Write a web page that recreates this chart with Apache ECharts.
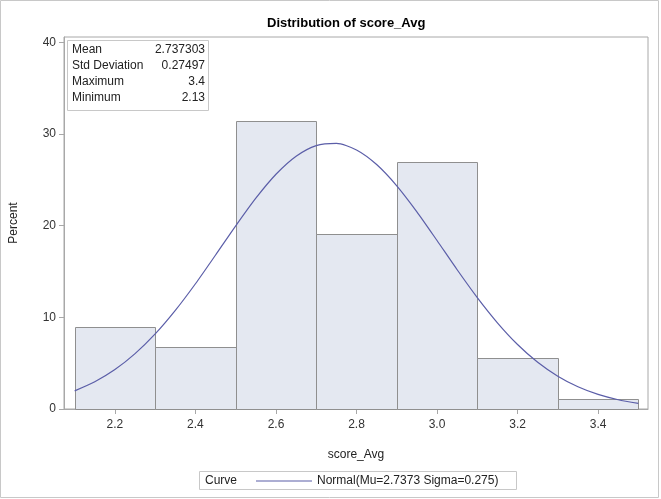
<!DOCTYPE html>
<html>
<head>
<meta charset="utf-8">
<script src="https://cdn.jsdelivr.net/npm/echarts@6/dist/echarts.min.js"></script>
<style>html,body{margin:0;padding:0;background:#fff}#c{width:661px;height:499px}</style>
</head>
<body>
<div id="c"></div>
<script>
// ---- data ----
const binStarts = [2.1, 2.3, 2.5, 2.7, 2.9, 3.1, 3.3];
const binEnds   = [2.3, 2.5, 2.7, 2.9, 3.1, 3.3, 3.5];
const percents  = [8.99, 6.74, 31.46, 19.10, 26.97, 5.62, 1.12];
const curveX = [2.10,2.15,2.20,2.25,2.30,2.35,2.40,2.45,2.50,2.55,2.60,2.65,2.70,2.75,2.80,2.85,2.90,2.95,3.00,3.05,3.10,3.15,3.20,3.25,3.30,3.35,3.40,3.45,3.50];
const curveY = [1.98,2.97,4.30,6.04,8.19,10.76,13.67,16.81,19.99,23.01,25.62,27.59,28.75,28.99,28.27,26.68,24.36,21.52,18.39,15.20,12.16,9.41,7.04,5.10,3.58,2.42,1.59,1.01,0.62];
const xTicks = [2.2, 2.4, 2.6, 2.8, 3.0, 3.2, 3.4];
const yTicks = [0, 10, 20, 30, 40];
const statNames  = ['Mean', 'Std Deviation', 'Maximum', 'Minimum'];
const statValues = ['2.737303', '0.27497', '3.4', '2.13'];
const titleText = 'Distribution of score_Avg';
const curveName = 'Normal(Mu=2.7373 Sigma=0.275)';

const FONT = '"Liberation Sans", Arial, sans-serif';
const chart = echarts.init(document.getElementById('c'), null, {renderer: 'canvas'});

const barData = binStarts.map((s, i) => [s, binEnds[i], percents[i]]);
const lineData = curveX.map((x, i) => [x, curveY[i]]);

const graphics = [
  {type: 'rect', shape: {x: 0.5, y: 0.5, width: 658, height: 497}, style: {fill: 'none', stroke: '#c8c8c8', lineWidth: 1}, silent: true, z: 0},
  {type: 'rect', shape: {x: 67.5, y: 40.5, width: 141, height: 70}, style: {fill: '#fff', stroke: '#c8c8c8', lineWidth: 1}, z: 50},
  {type: 'rect', shape: {x: 199.5, y: 471.5, width: 317, height: 18}, style: {fill: 'none', stroke: '#c8c8c8', lineWidth: 1}, z: 50},
  {type: 'text', left: 205, top: 475, style: {text: 'Curve', font: '12px ' + FONT, fill: '#222'}, z: 51}
];
statNames.forEach((n, i) => {
  graphics.push({type: 'text', x: 72, y: 50 + i * 16, style: {text: n, font: '12px ' + FONT, fill: '#222', verticalAlign: 'middle', align: 'left'}, z: 51});
  graphics.push({type: 'text', x: 205, y: 50 + i * 16, style: {text: statValues[i], font: '12px ' + FONT, fill: '#222', verticalAlign: 'middle', align: 'right'}, z: 51});
});

const option = {
  animation: false,
  backgroundColor: '#fff',
  title: {
    text: titleText, left: 262, top: 12,
    textStyle: {fontFamily: FONT, fontSize: 13, fontWeight: 'bold', color: '#000'}
  },
  grid: {left: 63, right: 13, top: 37, bottom: 90, show: true, borderColor: '#a8a8a8', borderWidth: 1, backgroundColor: 'transparent'},
  legend: {
    left: 256, top: 475, itemWidth: 56, itemHeight: 10, itemGap: 6,
    icon: 'path://M0,5 L56,5 L56,6 L0,6 Z',
    data: [{name: curveName}],
    textStyle: {fontFamily: FONT, fontSize: 12, color: '#222'},
    selectedMode: false, padding: 0
  },
  xAxis: {
    type: 'value', min: 2.0735, max: 3.524,
    name: 'score_Avg', nameLocation: 'middle', nameGap: 40,
    nameTextStyle: {fontFamily: FONT, fontSize: 12, color: '#222'},
    axisLine: {show: true, lineStyle: {color: '#a8a8a8'}},
    axisTick: {show: true, length: 5, lineStyle: {color: '#a8a8a8'}, customValues: xTicks},
    axisLabel: {customValues: xTicks, formatter: v => Number(v).toFixed(1), fontFamily: FONT, fontSize: 12, color: '#333', margin: 10},
    splitLine: {show: false}
  },
  yAxis: {
    type: 'value', min: 0, max: 40.6,
    name: 'Percent', nameLocation: 'middle', nameGap: 44, nameRotate: 90,
    nameTextStyle: {fontFamily: FONT, fontSize: 12, color: '#222'},
    axisLine: {show: true, lineStyle: {color: '#a8a8a8'}},
    axisTick: {show: true, length: 5, lineStyle: {color: '#a8a8a8'}, customValues: yTicks},
    axisLabel: {customValues: yTicks, fontFamily: FONT, fontSize: 12, color: '#333', margin: 8},
    splitLine: {show: false}
  },
  series: [
    {
      type: 'custom', name: 'hist', z: 2,
      encode: {x: [0, 1], y: 2},
      data: barData,
      renderItem: function (params, api) {
        const p0 = api.coord([api.value(0), api.value(2)]);
        const p1 = api.coord([api.value(1), 0]);
        const x0 = Math.round(p0[0]) + 0.5, x1 = Math.round(p1[0]) + 0.5;
        const y0 = Math.round(p0[1]) + 0.5, y1 = Math.round(p1[1]) + 0.5;
        return {type: 'rect', shape: {x: x0, y: y0, width: x1 - x0, height: y1 - y0},
          style: {fill: '#e4e8f1', stroke: '#8f8f8f', lineWidth: 1}};
      }
    },
    {
      type: 'line', name: curveName, z: 5, smooth: 0.25, symbol: 'none',
      data: lineData,
      lineStyle: {color: '#5b5ea8', width: 1.2},
      itemStyle: {color: '#5b5ea8'}
    }
  ],
  graphic: graphics
};
chart.setOption(option);
</script>
</body>
</html>
